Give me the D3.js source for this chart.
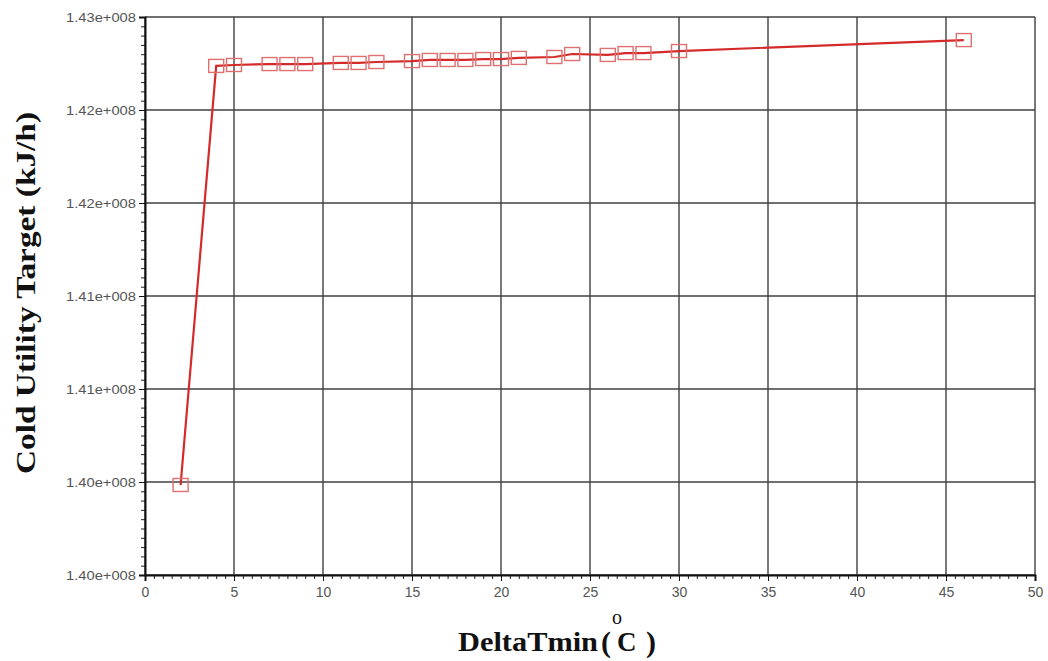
<!DOCTYPE html>
<html lang="en">
<head>
    <meta charset="UTF-8">
    <script src="https://d3js.org/d3.v7.min.js"></script>
    <title>Cold Utility Target vs DeltaTmin</title>
    <style>
        html, body {
            margin: 0px;
            padding: 0px;
            background-color: #ffffff;
        }
    </style>
</head>
<body>
    <div id="chart"></div>
    <script>
        // DeltaTmin (C)
        const deltaTmin = [2, 4, 5, 7, 8, 9, 11, 12, 13, 15, 16, 17, 18, 19, 20, 21, 23, 24, 26, 27, 28, 30, 46];
        // cold utility target (kJ/h)
        const coldUtility = [140.484e6, 142.737e6, 142.742e6, 142.747e6, 142.747e6, 142.747e6, 142.753e6, 142.753e6,
            142.758e6, 142.763e6, 142.769e6, 142.769e6, 142.769e6, 142.774e6, 142.774e6, 142.780e6, 142.785e6,
            142.801e6, 142.796e6, 142.806e6, 142.806e6, 142.817e6, 142.876e6];

        const yTicks = [1.400e8, 1.405e8, 1.410e8, 1.415e8, 1.420e8, 1.425e8, 1.430e8];
        const yTickLabels = ['1.40e+008', '1.40e+008', '1.41e+008', '1.41e+008', '1.42e+008', '1.42e+008', '1.43e+008'];
        const xTicks = [0, 5, 10, 15, 20, 25, 30, 35, 40, 45, 50];

        const width = 1048, height = 661;
        const plotL = 145, plotR = 1035, plotT = 17, plotB = 575;

        const svg = d3.select('#chart').append('svg')
            .attr('width', width).attr('height', height);

        const x = d3.scaleLinear().domain([0, 50]).range([plotL, plotR]);
        const y = d3.scaleLinear().domain([1.400e8, 1.430e8]).range([plotB, plotT]);

        // grid
        svg.append('g').selectAll('line')
            .data(xTicks)
            .join('line')
            .attr('x1', d => x(d)).attr('x2', d => x(d))
            .attr('y1', plotT).attr('y2', plotB)
            .attr('stroke', '#404040').attr('stroke-width', 1.4);
        svg.append('g').selectAll('line')
            .data(yTicks)
            .join('line')
            .attr('x1', plotL).attr('x2', plotR)
            .attr('y1', d => y(d)).attr('y2', d => y(d))
            .attr('stroke', '#404040').attr('stroke-width', 1.4);

        // minor ticks
        const xMinor = d3.range(0, 50.01, 0.5);
        svg.append('g').attr('transform', `translate(0,${plotB})`)
            .call(d3.axisBottom(x).tickValues(xMinor).tickSize(4).tickFormat(''))
            .call(g => g.select('.domain').remove())
            .call(g => g.selectAll('line').attr('stroke', '#222'));
        const yMinor = d3.range(0, 61).map(i => 1.400e8 + i * 0.0005e8);
        svg.append('g').attr('transform', `translate(${plotL},0)`)
            .call(d3.axisLeft(y).tickValues(yMinor).tickSize(4).tickFormat(''))
            .call(g => g.select('.domain').remove())
            .call(g => g.selectAll('line').attr('stroke', '#222'));

        // major axes
        svg.append('g').attr('transform', `translate(0,${plotB})`)
            .call(d3.axisBottom(x).tickValues(xTicks).tickSize(6).tickPadding(6).tickFormat(d3.format('d')))
            .call(g => g.select('.domain').attr('stroke', '#111').attr('stroke-width', 2))
            .call(g => g.selectAll('line').attr('stroke', '#111'))
            .call(g => g.selectAll('text').attr('fill', '#555')
                .style('font-family', 'Liberation Sans, Arial, sans-serif').style('font-size', '14px'));
        svg.append('g').attr('transform', `translate(${plotL},0)`)
            .call(d3.axisLeft(y).tickValues(yTicks).tickSize(6).tickPadding(3)
                .tickFormat((d, i) => yTickLabels[i]))
            .call(g => g.select('.domain').attr('stroke', '#111').attr('stroke-width', 2))
            .call(g => g.selectAll('line').attr('stroke', '#111'))
            .call(g => g.selectAll('text').attr('fill', '#555')
                .style('font-family', 'Liberation Sans, Arial, sans-serif').style('font-size', '13px')
                .attr('textLength', 70).attr('lengthAdjust', 'spacingAndGlyphs'));

        // series
        const pts = deltaTmin.map((d, i) => [d, coldUtility[i]]);
        svg.append('path')
            .datum(pts)
            .attr('fill', 'none')
            .attr('stroke', '#d42a2a')
            .attr('stroke-width', 2.2)
            .attr('d', d3.line().x(d => x(d[0])).y(d => y(d[1])));
        svg.append('g').selectAll('rect')
            .data(pts)
            .join('rect')
            .attr('x', d => x(d[0]) - 7.5).attr('y', d => y(d[1]) - 6.5)
            .attr('width', 15).attr('height', 13)
            .attr('fill', 'none')
            .attr('stroke', '#e07070')
            .attr('stroke-width', 1.4);

        // axis titles
        const titleFont = 'Liberation Serif, Times New Roman, serif';
        svg.append('text')
            .attr('transform', 'translate(35,293) rotate(-90)')
            .attr('text-anchor', 'middle')
            .style('font-family', titleFont)
            .style('font-weight', 'bold').style('font-size', '27px')
            .attr('textLength', 362).attr('lengthAdjust', 'spacingAndGlyphs')
            .attr('fill', '#111')
            .text('Cold Utility Target (kJ/h)');

        const xTitle = svg.append('g')
            .style('font-family', titleFont)
            .style('font-weight', 'bold')
            .attr('fill', '#111');
        xTitle.append('text').attr('x', 458).attr('y', 651).style('font-size', '27px')
            .attr('textLength', 140).attr('lengthAdjust', 'spacingAndGlyphs')
            .text('DeltaTmin');
        xTitle.append('text').attr('x', 601).attr('y', 652).style('font-size', '30px').text('(');
        xTitle.append('text').attr('x', 612).attr('y', 624).style('font-size', '20px')
            .style('font-weight', 'normal').text('o');
        xTitle.append('text').attr('x', 617).attr('y', 651).style('font-size', '27px').text('C');
        xTitle.append('text').attr('x', 646).attr('y', 652).style('font-size', '30px').text(')');
    </script>
</body>
</html>
